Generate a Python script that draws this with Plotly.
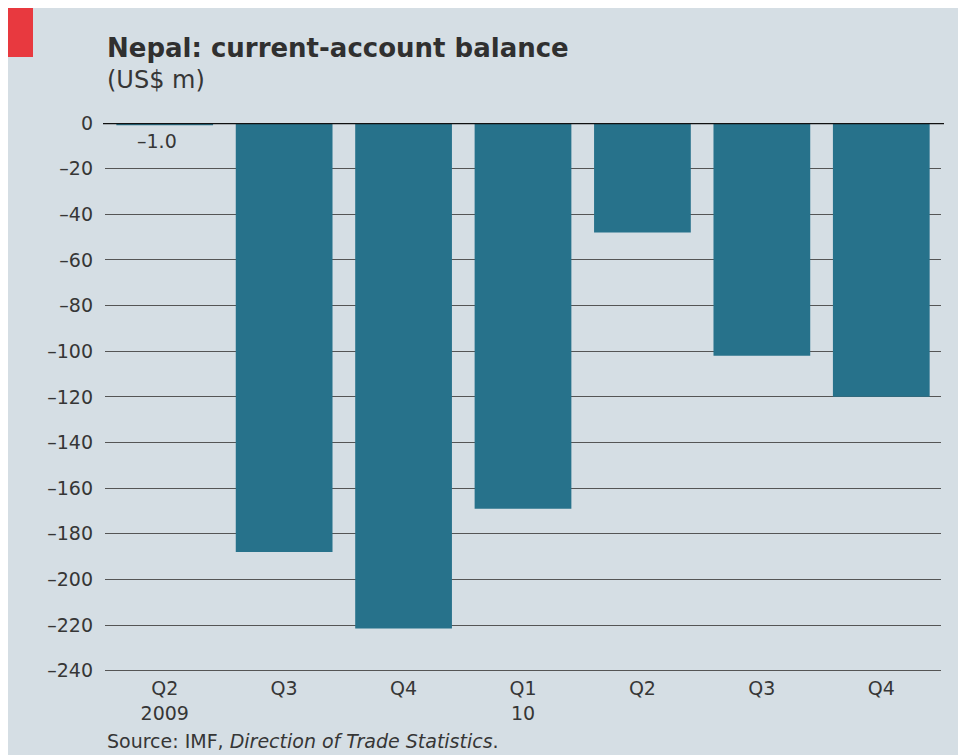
import plotly.graph_objects as go

categories = ["Q2<br>2009", "Q3", "Q4", "Q1<br>10", "Q2", "Q3", "Q4"]
values = [-1.0, -188, -221.5, -169, -48, -102, -120]
y_ticks = [0, -20, -40, -60, -80, -100, -120, -140, -160, -180, -200, -220, -240]
y_ticktext = [str(v).replace("-", "\u2013") for v in y_ticks]

BG = "#d5dee4"
BAR = "#27728b"
FONT = "DejaVu Sans"
TXT = "#363636"

OFF = 8  # page body margin
W, H = 976, 747
L, R, T, B = 97, 43, 115, 82
pw, ph = W - L - R, H - T - B

def px(x):
    # page pixel x -> paper fraction
    return (x - OFF - L) / pw

def py(y):
    # page pixel y -> paper fraction
    return (H - B - (y - OFF)) / ph

fig = go.Figure()
fig.add_trace(go.Bar(x=list(range(len(categories))), y=values,
                     marker=dict(color=BAR, line=dict(width=0)),
                     hoverinfo="skip"))

fig.update_layout(
    width=W, height=H,
    margin=dict(l=L, r=R, t=T, b=B),
    paper_bgcolor=BG, plot_bgcolor=BG,
    bargap=0.19, showlegend=False,
    font=dict(family=FONT, color=TXT),
    xaxis=dict(tickvals=list(range(len(categories))), ticktext=categories,
               range=[-0.5, len(categories) - 0.5], showgrid=False,
               zeroline=False, showline=False, ticks="",
               tickfont=dict(size=19, color=TXT), ticklabelstandoff=2),
    yaxis=dict(range=[-241, 0], tickvals=y_ticks, ticktext=y_ticktext,
               showgrid=True, gridcolor="#555555", gridwidth=1,
               zeroline=False, showline=False, ticks="",
               tickfont=dict(size=19, color=TXT), ticklabelstandoff=11),
)

# zero line
fig.add_shape(type="line", xref="paper", yref="y", x0=px(103), x1=px(944),
              y0=0, y1=0, line=dict(color="#111111", width=2.5), layer="above")

# red tag
fig.add_shape(type="rect", xref="paper", yref="paper", x0=px(7), x1=px(33),
              y0=py(57), y1=py(8), fillcolor="#e8393f", line=dict(width=0), layer="above")

fig.add_annotation(xref="paper", yref="paper", x=px(105), y=py(48),
                   xanchor="left", yanchor="middle", showarrow=False,
                   text="<b>Nepal: current-account balance</b>",
                   font=dict(size=26, color="#303030", family=FONT))
fig.add_annotation(xref="paper", yref="paper", x=px(105), y=py(80),
                   xanchor="left", yanchor="middle", showarrow=False,
                   text="(US$ m)", font=dict(size=24, color=TXT, family=FONT))
fig.add_annotation(xref="paper", yref="paper", x=px(105), y=py(741),
                   xanchor="left", yanchor="middle", showarrow=False,
                   text="Source: IMF, <i>Direction of Trade Statistics</i>.",
                   font=dict(size=19, color=TXT, family=FONT))
fig.add_annotation(x=0, y=values[0], xref="x", yref="y", yanchor="top",
                   yshift=-3, xshift=-8, showarrow=False,
                   text=f"{values[0]:.1f}".replace("-", "\u2013"),
                   font=dict(size=19, color=TXT, family=FONT))

fig.write_html(
    "out.html",
    post_script=("document.documentElement.style.overflow='hidden';"
                 "document.body.style.overflow='hidden';"),
)
